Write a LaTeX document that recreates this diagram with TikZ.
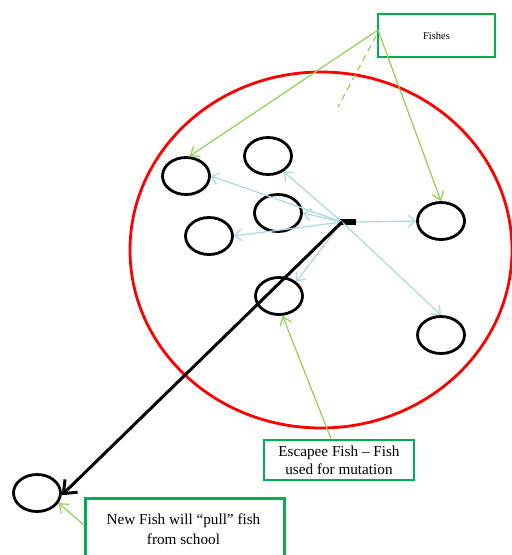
\documentclass[tikz,border=0pt]{standalone}
\usepackage{fontspec}
\setmainfont{Liberation Serif}
\usetikzlibrary{shapes.geometric,arrows.meta}
\definecolor{schoolred}{RGB}{255,0,0}
\definecolor{boxgreen}{RGB}{0,176,80}
\definecolor{leafgreen}{RGB}{146,208,80}
\definecolor{paleblue}{RGB}{175,218,228}
\tikzset{
  x=1pt, y=-1pt,
  fish/.style={ellipse, draw=black, line width=2.8pt, minimum width=47pt, minimum height=37pt, inner sep=0pt},
  note/.style={draw=boxgreen, line width=2.6pt, fill=white, align=center, inner sep=0pt},
  pointer/.style={draw=leafgreen, line width=1.2pt, -{Straight Barb[length=8pt,width=12pt,line width=1.2pt]}},
  swim/.style={draw=paleblue, line width=1.3pt, -{Straight Barb[length=7pt,width=12pt,line width=1.3pt]}},
  pull/.style={draw=black, line width=3pt, -{Straight Barb[length=11pt,width=18pt,line width=3pt]}},
}
\begin{document}
\begin{tikzpicture}
\useasboundingbox (0,0) rectangle (512,555);
\clip (0,0) rectangle (512,555);

% the school
\draw[schoolred, line width=2.8pt] (321,250) ellipse [x radius=191, y radius=178];

% fish in the school
\node[fish] (f1) at (186,176) {};
\node[fish] (f2) at (268,156) {};
\node[fish] (f3) at (278,213) {};
\node[fish] (f4) at (209,236) {};
\node[fish] (f5) at (441,221) {};
\node[fish] (f6) at (279,296) {};
\node[fish] (f7) at (441,335) {};
% new fish outside
\node[fish] (f8) at (37,493) {};

% escapee marker
\node[fill=black, minimum width=18pt, minimum height=6pt, inner sep=0pt] (esc) at (347,222) {};
\coordinate (src) at (342,222);

% escapee swimming paths
\draw[swim] (src) -- (f2.-45);
\draw[swim] (src) -- (f1.east);
\draw[swim] (src) -- (f3.east);
\draw[swim] (src) -- (f4.east);
\draw[swim] (esc.east) -- (f5.west);
\draw[swim] (src) -- (f6.40);
\draw[swim] (src) -- (f7.north);

% pull towards the new fish
\draw[pull] (src) -- (f8.-5);

% labels
\node[note, minimum width=117pt, minimum height=43pt, font=\fontsize{10.5}{12}\selectfont] (fishes) at (436.5,35.5) {Fishes};
\node[note, minimum width=150pt, minimum height=40pt, font=\fontsize{15.2}{18}\selectfont] (escape) at (339,460) {Escapee Fish -- Fish\\used for mutation};
\node[note, minimum width=199pt, minimum height=70pt, anchor=north west] (newfish) at (84,497) {};
\node[font=\fontsize{15.2}{20}\selectfont, align=center] (newtext) at (183.5,529) {New Fish will “pull” fish\\from school};

% label pointers
\coordinate (fsrc) at (378,30);
\draw[pointer] (fsrc) -- (f1.80);
\draw[pointer] (fsrc) -- (f5.north);
\draw[leafgreen, line width=1.2pt, dashed, dash pattern=on 6pt off 5pt] (376,36) -- (338,107);
\draw[pointer] (escape.north -| 331,0) -- (f6.-80);
\draw[pointer] (newfish.west |- 0,525) -- (f8.-25);
\end{tikzpicture}
\end{document}
